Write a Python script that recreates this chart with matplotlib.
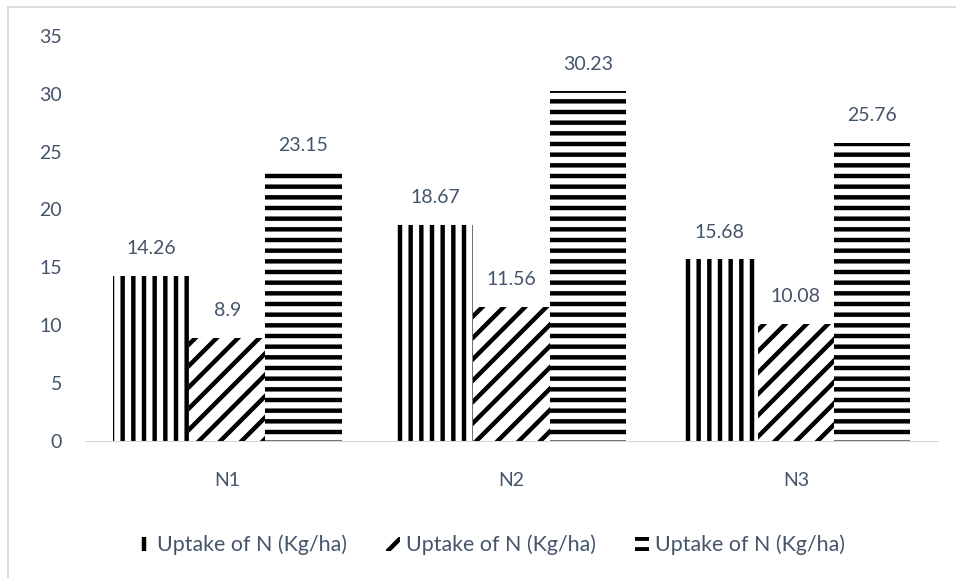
import matplotlib
matplotlib.use("Agg")
import matplotlib.pyplot as plt
import numpy as np
from matplotlib.lines import Line2D

# Nitrogen uptake per treatment
treatments = ["N1", "N2", "N3"]
series_labels = ["Uptake of N (Kg/ha)", "Uptake of N (Kg/ha)", "Uptake of N (Kg/ha)"]
uptake_a = [14.26, 18.67, 15.68]
uptake_b = [8.9, 11.56, 10.08]
uptake_c = [23.15, 30.23, 25.76]
value_text = [["14.26", "18.67", "15.68"],
              ["8.9", "11.56", "10.08"],
              ["23.15", "30.23", "25.76"]]

DPI = 64
TEXT = "#44546a"
GRID = "#d9d9d9"
FS = 22

plt.rcParams["font.family"] = ["Lato", "DejaVu Sans"]
plt.rcParams["hatch.linewidth"] = 5.0
plt.rcParams["hatch.color"] = "black"

fig = plt.figure(figsize=(956 / DPI, 578 / DPI), dpi=DPI)
ax = fig.add_axes([85 / 956, 1 - 440.5 / 578, 853 / 956, 404.5 / 578])

x = np.arange(len(treatments))
w = 0.2685
hatches = ["|", "/", "-"]
series = [uptake_a, uptake_b, uptake_c]

handles = []
for i, vals in enumerate(series):
    bars = ax.bar(x + (i - 1) * w, vals, w, color="white", edgecolor="black",
                  linewidth=0, hatch=hatches[i], label=series_labels[i])
    handles.append(bars)
    for b, v, t in zip(bars, vals, value_text[i]):
        ax.annotate(t, (b.get_x() + b.get_width() / 2, v), xytext=(0, 30.4),
                    textcoords="offset points", ha="center", va="center",
                    fontsize=FS, color=TEXT)

ax.set_xlim(-0.5, 2.5)
ax.set_ylim(0, 35)
ax.set_yticks(np.arange(0, 36, 5))
ax.set_xticks(x)
ax.set_xticklabels(treatments)
ax.tick_params(axis="both", length=0, labelsize=FS, labelcolor=TEXT)
ax.tick_params(axis="x", pad=36)
ax.tick_params(axis="y", pad=26)
for s in ["top", "right", "left"]:
    ax.spines[s].set_visible(False)
ax.spines["bottom"].set_color(GRID)
ax.spines["bottom"].set_linewidth(1.2)

leg = fig.legend(handles=handles, labels=series_labels, loc="center",
                 bbox_to_anchor=(491 / 956, 1 - 545 / 578), ncol=3, frameon=False,
                 fontsize=24, labelcolor=TEXT, handlelength=0.66, handleheight=0.6,
                 handletextpad=0.28, columnspacing=1.83)

# chart area frame (left and top edges)
fig.add_artist(Line2D([8 / 956, 8 / 956], [0, 1 - 7 / 578], transform=fig.transFigure,
                      color=GRID, linewidth=2))
fig.add_artist(Line2D([8 / 956, 1], [1 - 7 / 578, 1 - 7 / 578], transform=fig.transFigure,
                      color=GRID, linewidth=2))

fig.savefig("out.png", dpi=DPI, facecolor="white")
